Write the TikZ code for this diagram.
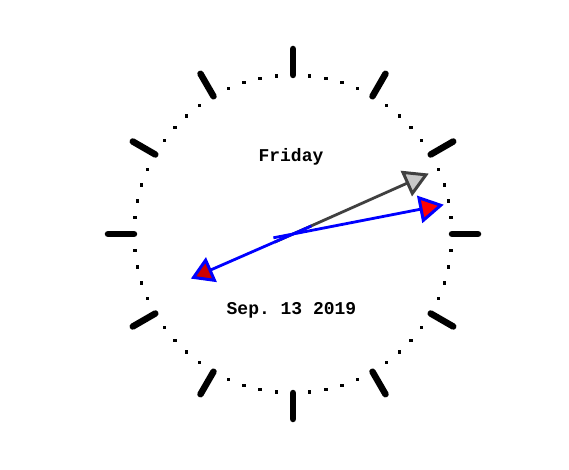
\documentclass[tikz,border=0pt]{standalone}
\usepackage{fontspec}
\setmonofont{Liberation Mono}
\definecolor{hourline}{RGB}{64,64,64}
\definecolor{hourfill}{RGB}{200,200,200}
\definecolor{minfill}{RGB}{255,0,0}
\definecolor{secfill}{RGB}{204,0,0}
\tikzset{
  tickline/.style={line width=6.5pt,line cap=round},
  handline/.style={line width=2.8pt},
  headshape/.style={line width=3pt,line join=miter},
  clocktext/.style={font=\ttfamily\bfseries\fontsize{18}{20}\selectfont,anchor=base,inner sep=0pt}
}
\newcommand\clockhand[6]{%
  \begin{scope}[rotate=#1]
    \draw[handline,#5] (-20,0) -- (#3,0);
    \filldraw[headshape,draw=#5,fill=#6] (#2,0) -- (#3,#4) -- (#3,-#4) -- cycle;
  \end{scope}}
\begin{document}
\begin{tikzpicture}[x=1pt,y=1pt]
\useasboundingbox[fill=white] (-293,-236) rectangle (276,234);
% hour ticks
\foreach \a in {0,30,...,330} \draw[tickline] (\a:159) -- (\a:185);
% minute dots
\foreach \h in {0,...,11} \foreach \k in {1,...,4}
  \fill ({\h*30+\k*6}:159) ++(-1.7,-1.7) rectangle ++(3.4,3.4);
% texts
\node[clocktext] (day) at (-2,72) {Friday};
\node[clocktext] (date) at (-1.5,-81) {Sep. 13 2019};
% hands
\clockhand{24}{145.5}{125.5}{11.5}{hourline}{hourfill}
\clockhand{11}{150.5}{130.5}{11.5}{blue}{minfill}
\clockhand{203.6}{108.5}{90.5}{11}{blue}{secfill}
\end{tikzpicture}
\end{document}
